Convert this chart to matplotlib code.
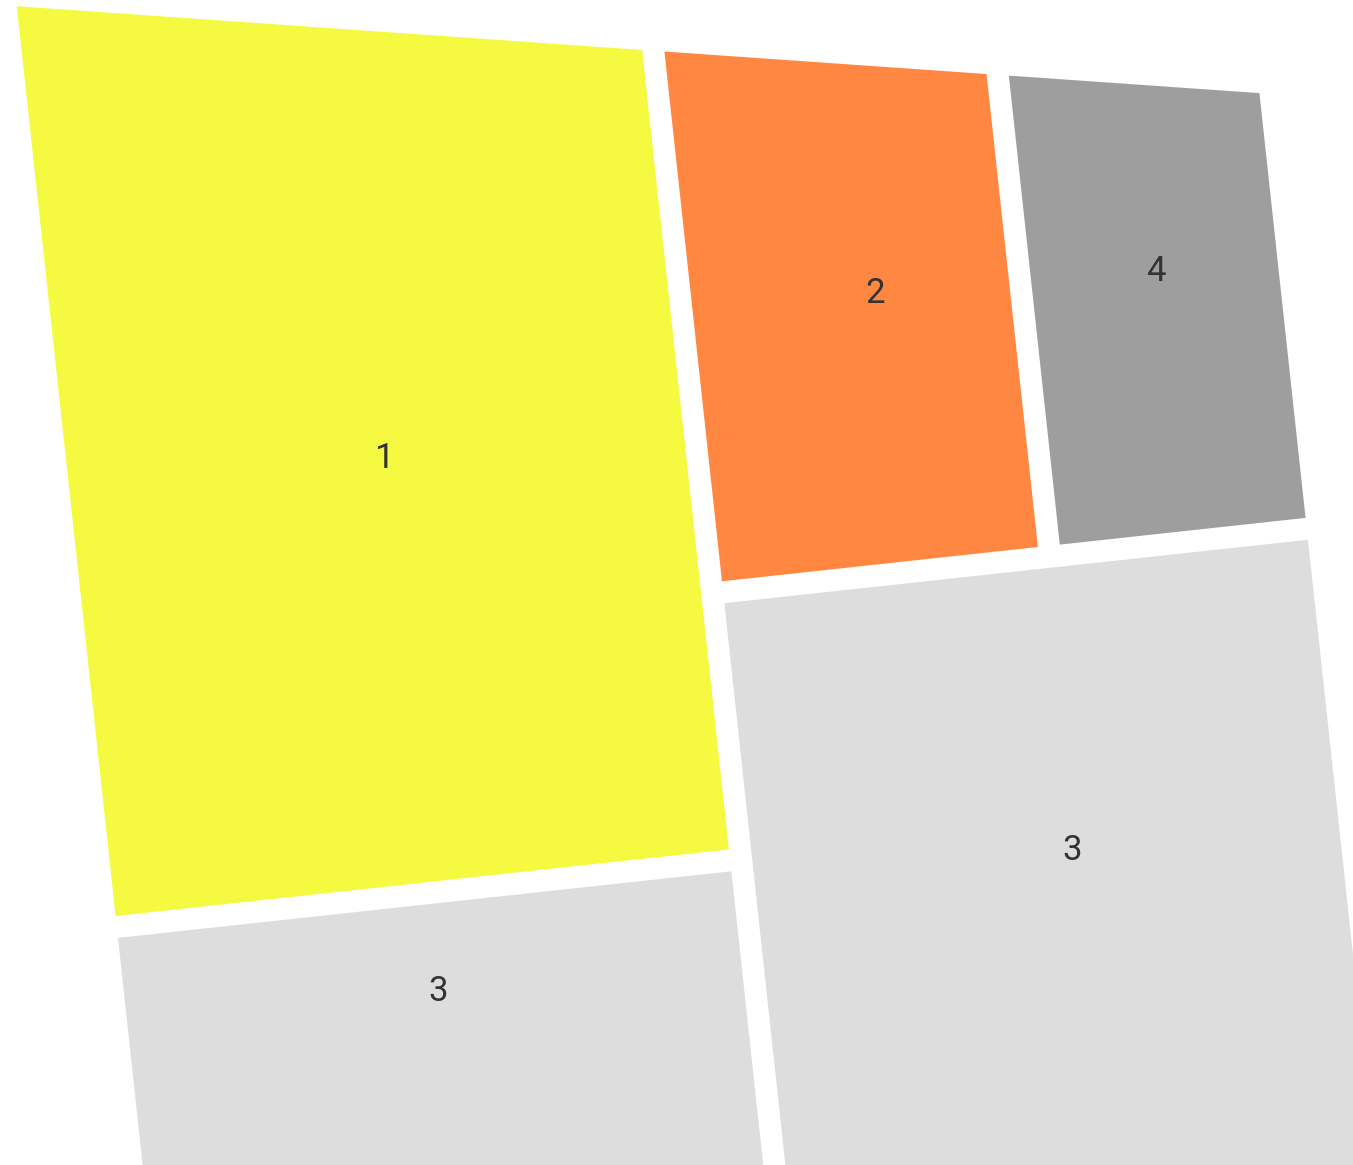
import matplotlib
matplotlib.use("Agg")
import matplotlib.pyplot as plt
from matplotlib.patches import Rectangle, Polygon
from matplotlib.transforms import Affine2D
import numpy as np

# ---- data ----
labels = ["1", "2", "4", "3", "3"]
values = [34.2, 13.0, 10.3, 17.0, 25.5]
colors = ["#F5FA40", "#FF8741", "#9E9E9E", "#DDDDDD", "#DDDDDD"]

# ---- figure ----
W, H = 1353, 1165
fig = plt.figure(figsize=(W / 100, H / 100), dpi=100)
ax = fig.add_axes([0, 0, 1, 1])
ax.set_xlim(0, W)
ax.set_ylim(H, 0)
ax.axis("off")

# treemap frame (layout coordinates) and gap between cells
X0, Y0, X1, Y1 = 5, -3, 1253, 1400
gap = 22


def split_h(rect, weights):
    x, y, w, h = rect
    tot = float(sum(weights))
    out, cx = [], x
    for wt in weights:
        ww = w * wt / tot
        out.append((cx, y, ww, h))
        cx += ww
    return out


def split_v(rect, weights):
    x, y, w, h = rect
    tot = float(sum(weights))
    out, cy = [], y
    for wt in weights:
        hh = h * wt / tot
        out.append((x, cy, w, hh))
        cy += hh
    return out


v = values
colL, colR = split_h((X0, Y0, X1 - X0, Y1 - Y0), [v[0] + v[3], v[1] + v[2] + v[4]])
r1, r3a = split_v(colL, [v[0], v[3]])
top, r3b = split_v(colR, [v[1] + v[2], v[4]])
r2, r4 = split_h(top, [v[1], v[2]])
rects = [r1, r2, r4, r3a, r3b]

# tilted view: rotate layout into the picture
theta = np.deg2rad(6.2)
c, s = np.cos(theta), np.sin(theta)
aff = Affine2D.from_values(c, -s, s, c, 0, 0)
trans = aff + ax.transData

# top clip line of the view
x_first, y_first = rects[0][0] + gap / 2, rects[0][1] + gap / 2
ax0, ay0 = aff.transform((x_first, y_first))
slope = np.tan(np.deg2rad(4.0))
clip_poly = Polygon([(-200, ay0 + slope * (-200 - ax0)),
                     (3000, ay0 + slope * (3000 - ax0)),
                     (3000, 5000), (-200, 5000)],
                    closed=True, transform=ax.transData, facecolor="none", edgecolor="none")
ax.add_patch(clip_poly)

label_pos = [(0.513, 0.535), (0.577, 0.584), (0.505, 0.597), (0.506, 0.198), (0.544, 0.399)]

for (x, y, w, h), col, lab, (fx, fy) in zip(rects, colors, labels, label_pos):
    xi, yi, wi, hi = x + gap / 2, y + gap / 2, w - gap, h - gap
    p = Rectangle((xi, yi), wi, hi, facecolor=col, edgecolor="none", transform=trans)
    ax.add_patch(p)
    p.set_clip_path(clip_poly)
    tx, ty = aff.transform((xi + fx * wi, yi + fy * hi))
    ax.text(tx, ty, lab, ha="center", va="center", fontsize=25, color="#333333",
            family=["Roboto", "DejaVu Sans"])

fig.savefig("out.png", dpi=100)
